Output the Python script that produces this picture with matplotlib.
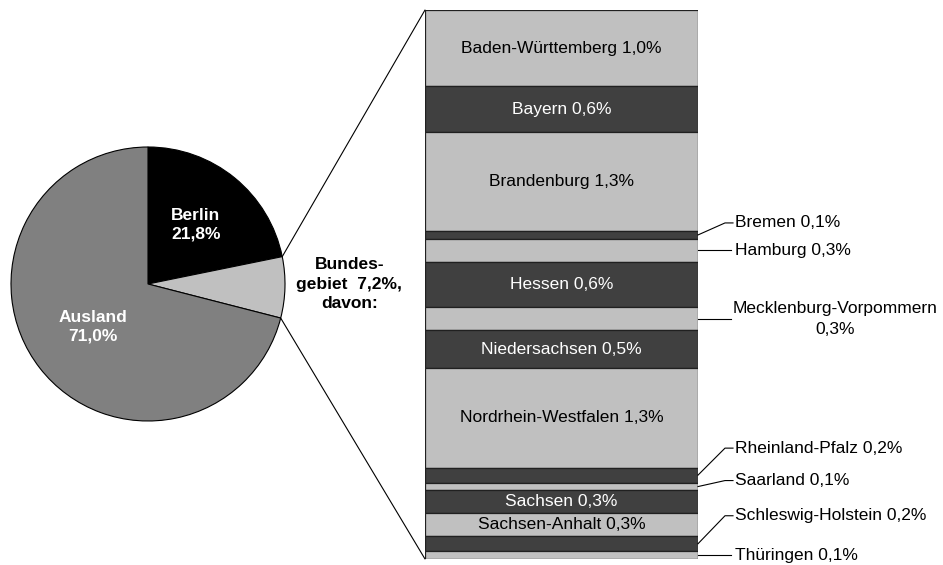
import numpy as np
import matplotlib.pyplot as plt
from matplotlib.patches import ConnectionPatch

plt.rcParams['font.family'] = ['Liberation Sans', 'DejaVu Sans']

# pie: origin of the students
pie_labels = ['Berlin', 'Bundesgebiet', 'Ausland']
pie_values = [21.8, 7.2, 71.0]
pie_colors = ['#000000', '#c0c0c0', '#808080']

# breakdown of "Bundesgebiet" by state
states = ['Baden-Württemberg', 'Bayern', 'Brandenburg', 'Bremen', 'Hamburg', 'Hessen',
          'Mecklenburg-Vorpommern', 'Niedersachsen', 'Nordrhein-Westfalen', 'Rheinland-Pfalz',
          'Saarland', 'Sachsen', 'Sachsen-Anhalt', 'Schleswig-Holstein', 'Thüringen']
state_values = [1.0, 0.6, 1.3, 0.1, 0.3, 0.6, 0.3, 0.5, 1.3, 0.2, 0.1, 0.3, 0.3, 0.2, 0.1]
inside_labels = ['Baden-Württemberg', 'Bayern', 'Brandenburg', 'Hessen', 'Niedersachsen',
                 'Nordrhein-Westfalen', 'Sachsen', 'Sachsen-Anhalt']

# how far (pixels) the outside labels are moved up from their segment
outside_shift = {'Bremen': 12, 'Hamburg': 0, 'Mecklenburg-Vorpommern': 0, 'Rheinland-Pfalz': 27,
                 'Saarland': 6, 'Schleswig-Holstein': 28, 'Thüringen': 0}

def pct(v):
    return '{0:.1f}%'.format(v).replace('.', ',')

FS = 12.5
W, H = 943, 565
fig = plt.figure(figsize=(W / 100, H / 100), dpi=100)

# pie axes, centre at (148, 281) px, radius 137 px
r_px = 137
half = 145
ax_pie = fig.add_axes([(148 - half) / W, (281 - half) / H, 2 * half / W, 2 * half / H])
ax_pie.pie(pie_values, colors=pie_colors, startangle=90, counterclock=False,
           wedgeprops=dict(edgecolor='black', linewidth=0.8))
ax_pie.set_xlim(-half / r_px, half / r_px)
ax_pie.set_ylim(-half / r_px, half / r_px)
ax_pie.set_aspect('equal')
ax_pie.axis('off')

ax_pie.text(0.35, 0.43, 'Berlin\n' + pct(pie_values[0]), color='white', fontweight='bold',
            fontsize=FS, ha='center', va='center', linespacing=1.3)
ax_pie.text(-0.40, -0.31, 'Ausland\n' + pct(pie_values[2]), color='white', fontweight='bold',
            fontsize=FS, ha='center', va='center', linespacing=1.3)
ax_pie.text(1.47, 0.0, 'Bundes-\ngebiet  ' + pct(pie_values[1]) + ',\ndavon:', color='black',
            fontweight='bold', fontsize=FS, ha='center', va='center', linespacing=1.35)

# stacked bar
bar_w_px, bar_h_px = 273, 549
ax_bar = fig.add_axes([425 / W, 6 / H, bar_w_px / W, bar_h_px / H])
total = sum(state_values)
bottoms = np.concatenate([[0], np.cumsum(state_values)[:-1]])
for i, (name, v) in enumerate(zip(states, state_values)):
    color = '#c0c0c0' if i % 2 == 0 else '#404040'
    ax_bar.bar(0, v, bottom=bottoms[i], width=1, align='edge', color=color,
               edgecolor='#202020', linewidth=0.9)
ax_bar.set_xlim(0, 1)
ax_bar.set_ylim(total, 0)
ax_bar.axis('off')

px_x = 1.0 / bar_w_px
px_y = total / bar_h_px
for i, (name, v) in enumerate(zip(states, state_values)):
    mid = bottoms[i] + v / 2
    if name in inside_labels:
        tc = 'black' if i % 2 == 0 else 'white'
        ax_bar.text(0.5, mid, name + ' ' + pct(v), color=tc, fontsize=FS, ha='center', va='center')
        continue
    shift = outside_shift[name]
    ty = mid - shift * px_y
    if shift:
        xs = [1, 1 + 27 * px_x, 1 + 35 * px_x]
        ys = [mid, ty, ty]
    else:
        xs = [1, 1 + 33 * px_x]
        ys = [mid, mid]
    ax_bar.plot(xs, ys, color='black', linewidth=0.8, clip_on=False)
    if name == 'Mecklenburg-Vorpommern':
        ax_bar.text(1 + 137 * px_x, ty, name + '\n' + pct(v), fontsize=FS, ha='center',
                    va='center', linespacing=1.45)
    else:
        ax_bar.text(1 + 37 * px_x, ty, name + ' ' + pct(v), fontsize=FS, ha='left', va='center')

# connecting lines from the "Bundesgebiet" wedge to the bar
a1 = np.deg2rad(90 - 360 * pie_values[0] / 100)
a2 = np.deg2rad(90 - 360 * (pie_values[0] + pie_values[1]) / 100)
for ang, yb in [(a1, 0), (a2, total)]:
    con = ConnectionPatch(xyA=(np.cos(ang), np.sin(ang)), coordsA=ax_pie.transData,
                          xyB=(0, yb), coordsB=ax_bar.transData, color='black', linewidth=0.8)
    fig.add_artist(con)

fig.savefig('out.png', dpi=100)
